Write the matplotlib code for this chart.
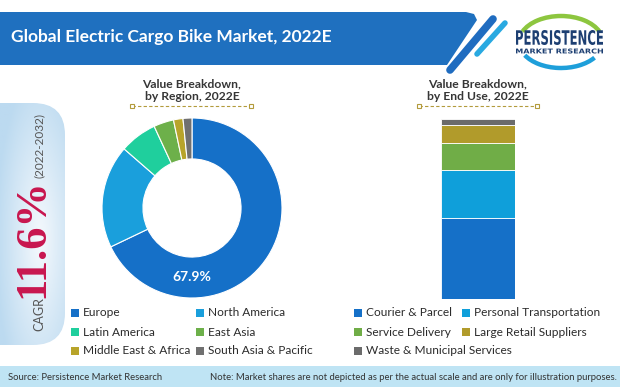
import numpy as np
import matplotlib.pyplot as plt
from matplotlib.patches import FancyBboxPatch, Rectangle, Polygon, Arc, PathPatch
from matplotlib.colors import LinearSegmentedColormap
from matplotlib.textpath import TextPath
from matplotlib.font_manager import FontProperties
from matplotlib.transforms import Affine2D

plt.rcParams['font.family'] = ['Lato', 'DejaVu Sans']

# data
regions = ['Europe', 'North America', 'Latin America', 'East Asia',
           'Middle East & Africa', 'South Asia & Pacific']
region_share = [67.9, 18.5, 6.7, 3.6, 1.7, 1.6]
region_colors = ['#1570c8', '#1a9fdc', '#1fcf9d', '#6db04a', '#b8a42a', '#707070']

end_uses = ['Courier & Parcel', 'Personal Transportation', 'Service Delivery',
            'Large Retail Suppliers', 'Waste & Municipal Services']
end_use_share = [45.0, 26.9, 14.8, 10.2, 3.1]
end_use_colors = ['#1570c8', '#0f9fda', '#70ad47', '#b19b2b', '#6b6b6b']

W, H = 620, 387
fig = plt.figure(figsize=(6.2, 3.87), dpi=100)
bg = fig.add_axes([0, 0, 1, 1])
bg.set_xlim(0, W)
bg.set_ylim(H, 0)
bg.axis('off')


def px_axes(x0, y0, x1, y1):
    return fig.add_axes([x0 / W, 1 - y1 / H, (x1 - x0) / W, (y1 - y0) / H])


def fit_text(s, x0, x1, y_top, y_base, color, weight='bold'):
    # squeeze a text into a box (for the condensed logo lettering)
    tp = TextPath((0, 0), s, size=10, prop=FontProperties(family='DejaVu Sans', weight=weight))
    ext = tp.get_extents()
    sx = (x1 - x0) / ext.width
    sy = (y_base - y_top) / ext.height
    tr = Affine2D().translate(-ext.x0, -ext.y0).scale(sx, -sy).translate(x0, y_base)
    bg.add_patch(PathPatch(tr.transform_path(tp), color=color, lw=0))


# header band + stripes
band = Polygon([(0, 12), (466, 12), (474, 14), (477, 20), (447, 65), (0, 65)],
               closed=True, color='#1f70bf', lw=0)
bg.add_patch(band)
bg.plot([493, 450], [19, 70], color='#1f6cc0', lw=5.5, solid_capstyle='round')
bg.plot([505, 477], [23, 54], color='#29a9e1', lw=4.0, solid_capstyle='round')
bg.text(11, 37, 'Global Electric Cargo Bike Market, 2022E', color='white',
        fontsize=12.5, fontweight='bold', va='center', ha='left')

# logo
bg.add_patch(Arc((561, 42), 84, 52, theta1=195, theta2=345, color='#8dc63f', lw=3.2))
bg.add_patch(Arc((561, 42), 84, 52, theta1=25, theta2=160, color='#1e9fda', lw=3.2))
fit_text('PERSISTENCE', 516, 603, 30, 45, '#1d3f72')
fit_text('MARKET RESEARCH', 516, 603, 48.5, 53.5, '#1d3f72')

# CAGR pill
pill = FancyBboxPatch((-40, 103), 105, 242, boxstyle='round,pad=0,rounding_size=32',
                      facecolor='none', edgecolor='none')
bg.add_patch(pill)
xx, yy = np.meshgrid(np.linspace(0, 65, 60), np.linspace(103, 345, 200))
d = np.sqrt(((xx - 40) / 45) ** 2 + ((yy - 240) / 170) ** 2)
cmap = LinearSegmentedColormap.from_list('pill', ['#f5f9fd', '#bcdaf0'])
im = bg.imshow(np.clip(d, 0, 1), extent=(0, 65, 345, 103), origin='upper',
               cmap=cmap, vmin=0, vmax=1, aspect='auto', zorder=1)
im.set_clip_path(pill)
bg.set_xlim(0, W)
bg.set_ylim(H, 0)
bg.text(43, 331, 'CAGR', rotation=90, rotation_mode='anchor', ha='left', va='baseline',
        color='#555555', fontsize=9, zorder=2)
bg.text(43, 298, '11.6%', rotation=90, rotation_mode='anchor', ha='left', va='baseline',
        color='#c8164f', fontsize=32, fontweight='bold', zorder=2,
        family=['Liberation Serif', 'DejaVu Serif'])
bg.text(43, 178, '(2022-2032)', rotation=90, rotation_mode='anchor', ha='left',
        va='baseline', color='#555555', fontsize=8.5, zorder=2)

# subtitles
for cx, x0, x1, sub in [(192, 132, 251, 'by Region, 2022E'), (478, 419, 537, 'by End Use, 2022E')]:
    bg.text(cx, 84, 'Value Breakdown,', ha='center', va='center', fontsize=8.7,
            fontweight='bold', color='#363636')
    bg.text(cx, 97, sub, ha='center', va='center', fontsize=8.7,
            fontweight='bold', color='#363636')
    bg.plot([x0, x1], [106, 106], color='#b39b3c', ls=(0, (3, 2)), lw=0.8)
    bg.plot([x0, x1], [106, 106], 's', ms=3, mfc='white', mec='#b39b3c', mew=0.8)

# donut
ax1 = px_axes(102, 118, 282, 298)
ax1.pie(region_share, colors=region_colors, startangle=90, counterclock=False,
        wedgeprops=dict(width=0.455, edgecolor='white', linewidth=0.8))
ax1.set_xlim(-1, 1)
ax1.set_ylim(-1, 1)
ax1.text(0, -0.77, '%.1f%%' % region_share[0], color='white', fontsize=10,
         fontweight='bold', ha='center', va='center')

# stacked bar
ax2 = px_axes(441, 119, 515, 299)
bottom = 0
for v, c in zip(end_use_share, end_use_colors):
    ax2.bar(0, v, bottom=bottom, width=1, color=c, edgecolor='white', linewidth=0.6)
    bottom += v
ax2.set_xlim(-0.5, 0.5)
ax2.set_ylim(0, sum(end_use_share))
ax2.axis('off')

# legends
rows = [313, 332, 351]
for labels, colors, cols in [(regions, region_colors, [71, 196]),
                             (end_uses, end_use_colors, [354, 462])]:
    for i, (lab, c) in enumerate(zip(labels, colors)):
        x = cols[i % 2]
        y = rows[i // 2]
        bg.add_patch(Rectangle((x, y - 4), 8, 8, color=c, lw=0))
        bg.text(x + 12, y, lab, ha='left', va='center', fontsize=8.6, color='#2b2b2b')

# footer
bg.add_patch(Rectangle((0, 366), W, 21, color='#bfe4f4', lw=0))
bg.text(8, 377, 'Source: Persistence Market Research', ha='left', va='center',
        fontsize=6.8, color='#333333')
bg.text(617, 377, 'Note: Market shares are not depicted as per the actual scale and are only for illustration purposes.',
        ha='right', va='center', fontsize=6.8, color='#333333')

fig.savefig('out.png', dpi=100)
